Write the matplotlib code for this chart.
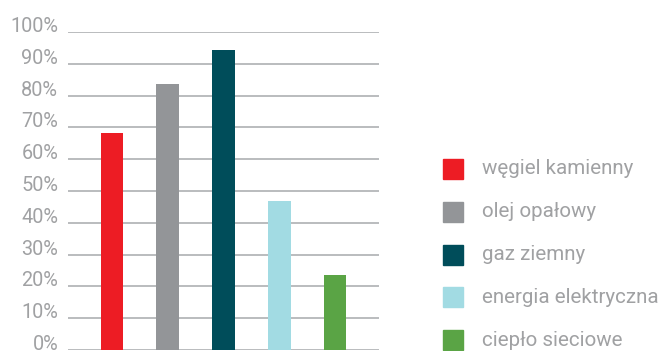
import matplotlib
matplotlib.use("Agg")
import matplotlib.pyplot as plt
from matplotlib.patches import Rectangle
import numpy as np

categories = ["węgiel kamienny", "olej opałowy", "gaz ziemny", "energia elektryczna", "ciepło sieciowe"]
values = [68.3, 83.7, 94.4, 46.9, 23.6]
colors = ["#ed1c24", "#939598", "#004d5a", "#a2dbe3", "#5aa445"]
yticks = [0, 10, 20, 30, 40, 50, 60, 70, 80, 90, 100]

plt.rcParams['font.family'] = ['Roboto', 'DejaVu Sans']
text_color = "#a0a1a3"

fig = plt.figure(figsize=(6.68, 3.51), dpi=100)
W, H = 668, 351
ax = fig.add_axes([68 / W, 1 / H, (379 - 68) / W, (350 - 32) / H])

x = np.arange(len(categories))
ax.bar(x, values, width=0.41, color=colors, zorder=3)

ax.set_xlim(-0.79, 4.79)
ax.set_ylim(0, 100)
ax.set_yticks(yticks)
ax.set_yticklabels([f"{t}%" for t in yticks], color=text_color, fontsize=14.3, va='baseline')
ax.set_xticks([])
ax.tick_params(axis='y', length=0, pad=7)
ax.grid(axis='y', color="#a7a9ac", linewidth=1.1, zorder=1)
for s in ax.spines.values():
    s.set_visible(False)
ax.patch.set_alpha(0)

# legend drawn by hand in pixel positions
for i, (lab, col) in enumerate(zip(categories, colors)):
    yc = 169 + i * 42.8
    fig.add_artist(Rectangle((443 / W, 1 - (yc + 10) / H), 20 / W, 20 / H,
                             transform=fig.transFigure, color=col))
    fig.text(482 / W, 1 - yc / H, lab, color=text_color, fontsize=14.8,
             va='center', ha='left')

fig.savefig("out.png", dpi=100)
